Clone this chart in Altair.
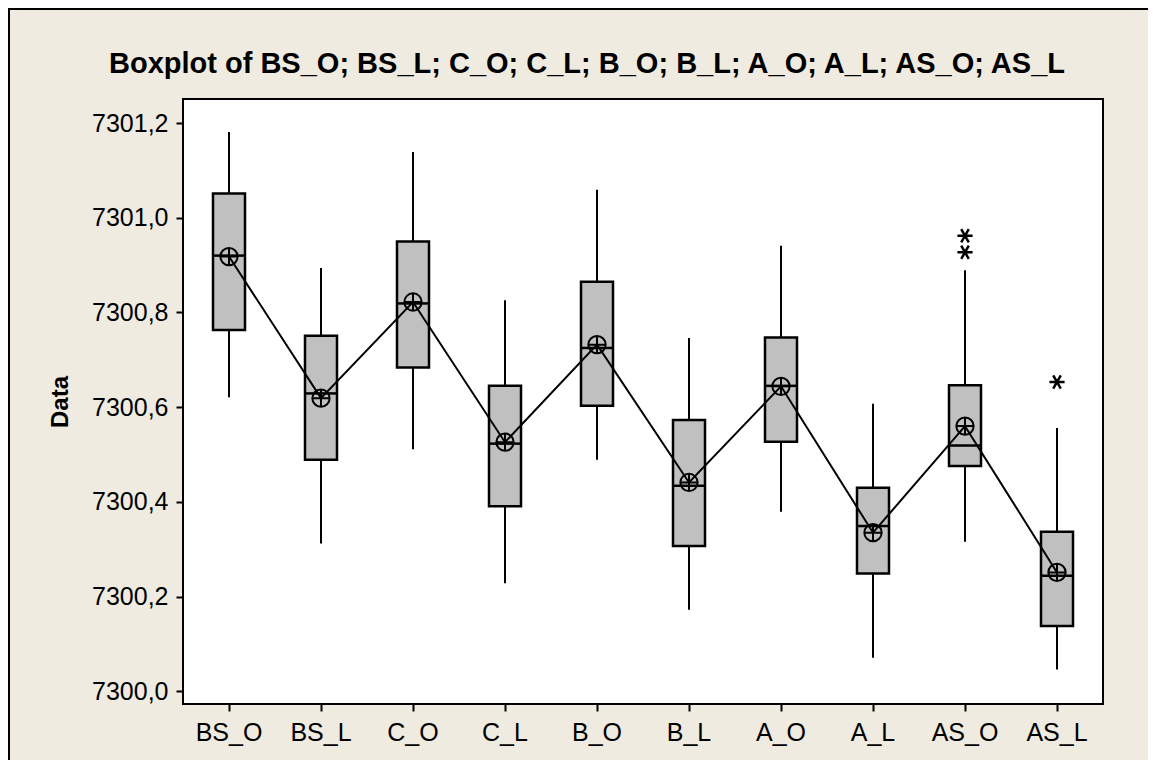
import altair as alt
import pandas as pd

# ---- data ----
cats = ["BS_O", "BS_L", "C_O", "C_L", "B_O", "B_L", "A_O", "A_L", "AS_O", "AS_L"]
whisker_hi = [7301.181, 7300.894, 7301.139, 7300.826, 7301.059, 7300.746, 7300.941, 7300.607, 7300.889, 7300.556]
q3 = [7301.051, 7300.751, 7300.950, 7300.645, 7300.865, 7300.573, 7300.747, 7300.430, 7300.646, 7300.337]
median = [7300.920, 7300.629, 7300.819, 7300.523, 7300.725, 7300.434, 7300.645, 7300.349, 7300.519, 7300.244]
mean = [7300.918, 7300.619, 7300.822, 7300.526, 7300.732, 7300.441, 7300.644, 7300.335, 7300.560, 7300.251]
q1 = [7300.763, 7300.489, 7300.684, 7300.391, 7300.603, 7300.307, 7300.527, 7300.249, 7300.476, 7300.138]
whisker_lo = [7300.621, 7300.312, 7300.511, 7300.228, 7300.489, 7300.172, 7300.379, 7300.071, 7300.316, 7300.046]
outlier_cat = ["AS_O", "AS_O", "AS_L"]
outlier_val = [7300.962, 7300.927, 7300.653]
y_ticks = [7300.0, 7300.2, 7300.4, 7300.6, 7300.8, 7301.0, 7301.2]
title_text = "Boxplot of BS_O; BS_L; C_O; C_L; B_O; B_L; A_O; A_L; AS_O; AS_L"
y_title = "Data"

df = pd.DataFrame({
    "cat": cats, "whi": whisker_hi, "q3": q3, "median": median,
    "mean": mean, "q1": q1, "wlo": whisker_lo,
})
out_df = pd.DataFrame({"cat": outlier_cat, "val": outlier_val})

FONT = "Liberation Sans"
W, H = 920, 605
PAD = {"left": 175, "top": 91, "right": 45, "bottom": 56}

x_axis = alt.Axis(title=None, labelAngle=0, labelFontSize=25, labelPadding=9)
y_axis = alt.Axis(
    title=y_title, values=y_ticks,
    labelExpr="replace(format(datum.value, '.1f'), '.', ',')",
    labelFontSize=25, labelPadding=8,
    titleFontSize=24, titleFontWeight="bold", titleX=-123, titleY=H / 2,
    titleAlign="center", titleBaseline="middle", titleAngle=270,
)
x_scale = alt.Scale(domain=cats, paddingInner=0, paddingOuter=0)
y_scale = alt.Scale(domain=[7299.9732, 7301.2507], nice=False, zero=False)

X = alt.X("cat:N", sort=cats, scale=x_scale, axis=x_axis)

def Y(field):
    return alt.Y(f"{field}:Q", scale=y_scale, axis=y_axis)

base = alt.Chart(df)

whiskers = base.mark_rule(color="black", strokeWidth=2).encode(
    x=X, y=Y("wlo"), y2="whi:Q"
)
boxes = base.mark_bar(size=32, color="#C0C0C0", stroke="black", strokeWidth=2.5).encode(
    x=X, y=Y("q1"), y2="q3:Q"
)
medians = base.mark_tick(size=32, thickness=2.5, color="black", opacity=1).encode(
    x=X, y=Y("median")
)
mean_line = base.mark_line(color="black", strokeWidth=2).encode(
    x=X, y=Y("mean")
)
CIRCLE_PLUS = "M-1,0A1,1,0,1,0,1,0A1,1,0,1,0,-1,0M-1,0L1,0M0,-1L0,1"
mean_pts = base.mark_point(
    shape=CIRCLE_PLUS, filled=False, size=300, stroke="black", strokeWidth=2, opacity=1
).encode(x=X, y=Y("mean"))

ASTERISK = "M-1,0L1,0M-0.5,-0.866L0.5,0.866M-0.5,0.866L0.5,-0.866"
outliers = alt.Chart(out_df).mark_point(
    shape=ASTERISK, filled=False, size=230, stroke="black", strokeWidth=2.5, opacity=1
).encode(x=X, y=Y("val"))

one = alt.Data(values=[{"t": title_text}])
title = alt.Chart(one).mark_text(
    font=FONT, fontSize=29, fontWeight="bold", color="black", align="center", baseline="alphabetic"
).encode(x=alt.value(404), y=alt.value(-26.3), text="t:N")

frame_left = alt.Chart(alt.Data(values=[{"a": 1}])).mark_rule(color="black", strokeWidth=2).encode(
    x=alt.value(-174), y=alt.value(-90), y2=alt.value(900)
)
frame_top = alt.Chart(alt.Data(values=[{"a": 1}])).mark_rule(color="black", strokeWidth=2).encode(
    x=alt.value(-175), x2=alt.value(1200), y=alt.value(-90)
)

chart = alt.layer(
    whiskers, boxes, medians, mean_line, mean_pts, outliers, title, frame_left, frame_top
).properties(
    width=W, height=H,
    autosize=alt.AutoSizeParams(type="none"),
    padding=PAD,
    background="#EFEBE1",
).configure_view(
    stroke="black", strokeWidth=2, fill="white"
).configure_axis(
    domain=False, grid=False, tickColor="black", tickWidth=2, tickSize=7,
    labelColor="black", labelFont=FONT, titleFont=FONT, titleColor="black",
)

chart.save("out.html", embed_options={"renderer": "svg", "actions": False})
